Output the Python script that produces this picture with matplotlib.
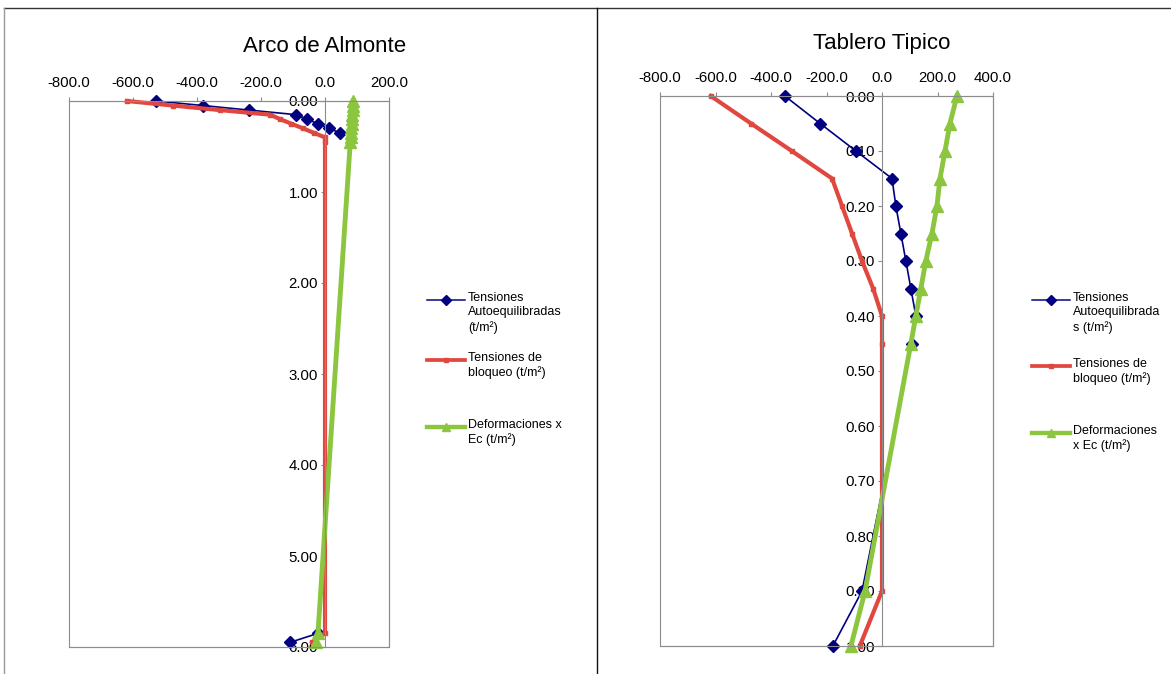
import matplotlib.pyplot as plt
from matplotlib.lines import Line2D
from matplotlib.patches import Rectangle
import numpy as np

plt.rcParams['font.family'] = ['Liberation Sans', 'DejaVu Sans']

W, H = 1171, 674
nan = np.nan

# Arco de Almonte
depth_arco = [0.00, 0.05, 0.10, 0.15, 0.20, 0.25, 0.30, 0.35, 0.40, 0.45, 5.85, 5.95]
auto_arco = [-528, -381, -237, -91, -56, -22, 12, 47, nan, nan, -22, -110]
bloqueo_arco = [-619, -475, -328, -172, -140, -105, -69, -35, 0, 0, 0, -40]
deform_arco = [88, 87, 86, 85, 84, 83, 82, 81, 80, 79, -22, -28]

# Tablero Tipico
depth_tab = [0.00, 0.05, 0.10, 0.15, 0.20, 0.25, 0.30, 0.35, 0.40, 0.45, 0.90, 1.00]
auto_tab = [-350, -223, -94, 36, 50, 68, 86, 104, 122, 108, -72, -177]
bloqueo_tab = [-617, -472, -325, -180, -144, -108, -72, -32, 0, 0, 0, -80]
deform_tab = [270, 245, 227, 209, 198, 180, 158, 140, 122, 104, -61, -112]

labels_arco = ['Tensiones\nAutoequilibradas\n(t/m²)', 'Tensiones de\nbloqueo (t/m²)',
               'Deformaciones x\nEc (t/m²)']
labels_tab = ['Tensiones\nAutoequilibrada\ns (t/m²)', 'Tensiones de\nbloqueo (t/m²)',
              'Deformaciones\nx Ec (t/m²)']

BLUE = '#000080'
RED = '#e0483f'
GREEN = '#8cc63f'
GRAY = '#8c8c8c'

styles = [
    dict(color=BLUE, lw=1.2, marker='D', ms=6.5),
    dict(color=RED, lw=3.0, marker='s', ms=3),
    dict(color=GREEN, lw=3.5, marker='^', ms=8.5),
]

fig = plt.figure(figsize=(W / 100, H / 100), dpi=100)


def fx(x):
    return x / W


def fy(y):
    return 1 - y / H


# frame around the two panels
fig.add_artist(Line2D([fx(4), fx(W)], [fy(8), fy(8)], color='#333333', lw=1.0))
fig.add_artist(Line2D([fx(4), fx(4)], [fy(8), 0], color='#999999', lw=1.0))
fig.add_artist(Line2D([fx(597), fx(597)], [fy(8), 0], color='#111111', lw=1.0))


def panel(rect, depth, series, xlim, xticks, ylim, yticks, title, title_xy):
    ax = fig.add_axes(rect)
    for vals, st in zip(series, styles):
        ax.plot(vals, depth, color=st['color'], lw=st['lw'], marker=st['marker'],
                ms=st['ms'], mec=st['color'], mfc=st['color'], clip_on=False)
    ax.set_xlim(*xlim)
    ax.set_ylim(ylim[1], ylim[0])
    ax.set_xticks(xticks)
    ax.set_xticklabels(['{:.1f}'.format(v) for v in xticks])
    ax.set_yticks(yticks)
    ax.set_yticklabels(['{:.2f}'.format(v) for v in yticks])
    ax.xaxis.tick_top()
    ax.spines['left'].set_position(('data', 0))
    for s in ax.spines.values():
        s.set_color(GRAY)
        s.set_linewidth(0.8)
    ax.add_patch(Rectangle((0, 0), 1, 1, transform=ax.transAxes, fill=False,
                           edgecolor=GRAY, lw=0.8, clip_on=False))
    ax.tick_params(axis='x', direction='out', length=3, width=0.8, color=GRAY,
                   labelsize=10.8, pad=5)
    ax.tick_params(axis='y', direction='out', length=3, width=0.8, color=GRAY,
                   labelsize=10.8, pad=2)
    fig.text(fx(title_xy[0]), fy(title_xy[1]), title, ha='center', va='center', fontsize=16)
    return ax


def legend(x0, rows, labels):
    for y, lab, st in zip(rows, labels, styles):
        fig.add_artist(Line2D([fx(x0), fx(x0 + 19), fx(x0 + 38)], [fy(y)] * 3,
                              color=st['color'], lw=st['lw'] * 0.9, marker=st['marker'],
                              ms=st['ms'] * 0.75, markevery=[1]))
        fig.text(fx(x0 + 41), fy(y - 8), lab, ha='left', va='top', fontsize=9,
                 linespacing=1.25)


panel([fx(69), fy(647), (389 - 69) / W, (647 - 101) / H], depth_arco,
      [auto_arco, bloqueo_arco, deform_arco], (-800, 200),
      [-800, -600, -400, -200, 0, 200], (0, 6), [0, 1, 2, 3, 4, 5, 6],
      'Arco de Almonte', (325, 47))
legend(427, [300, 360, 427], labels_arco)

panel([fx(660), fy(646), (993 - 660) / W, (646 - 96) / H], depth_tab,
      [auto_tab, bloqueo_tab, deform_tab], (-800, 400),
      [-800, -600, -400, -200, 0, 200, 400], (0, 1),
      list(np.round(np.arange(0, 1.01, 0.1), 2)), 'Tablero Tipico', (882, 43))
legend(1032, [300, 366, 433], labels_tab)

fig.savefig('out.png', dpi=100)
